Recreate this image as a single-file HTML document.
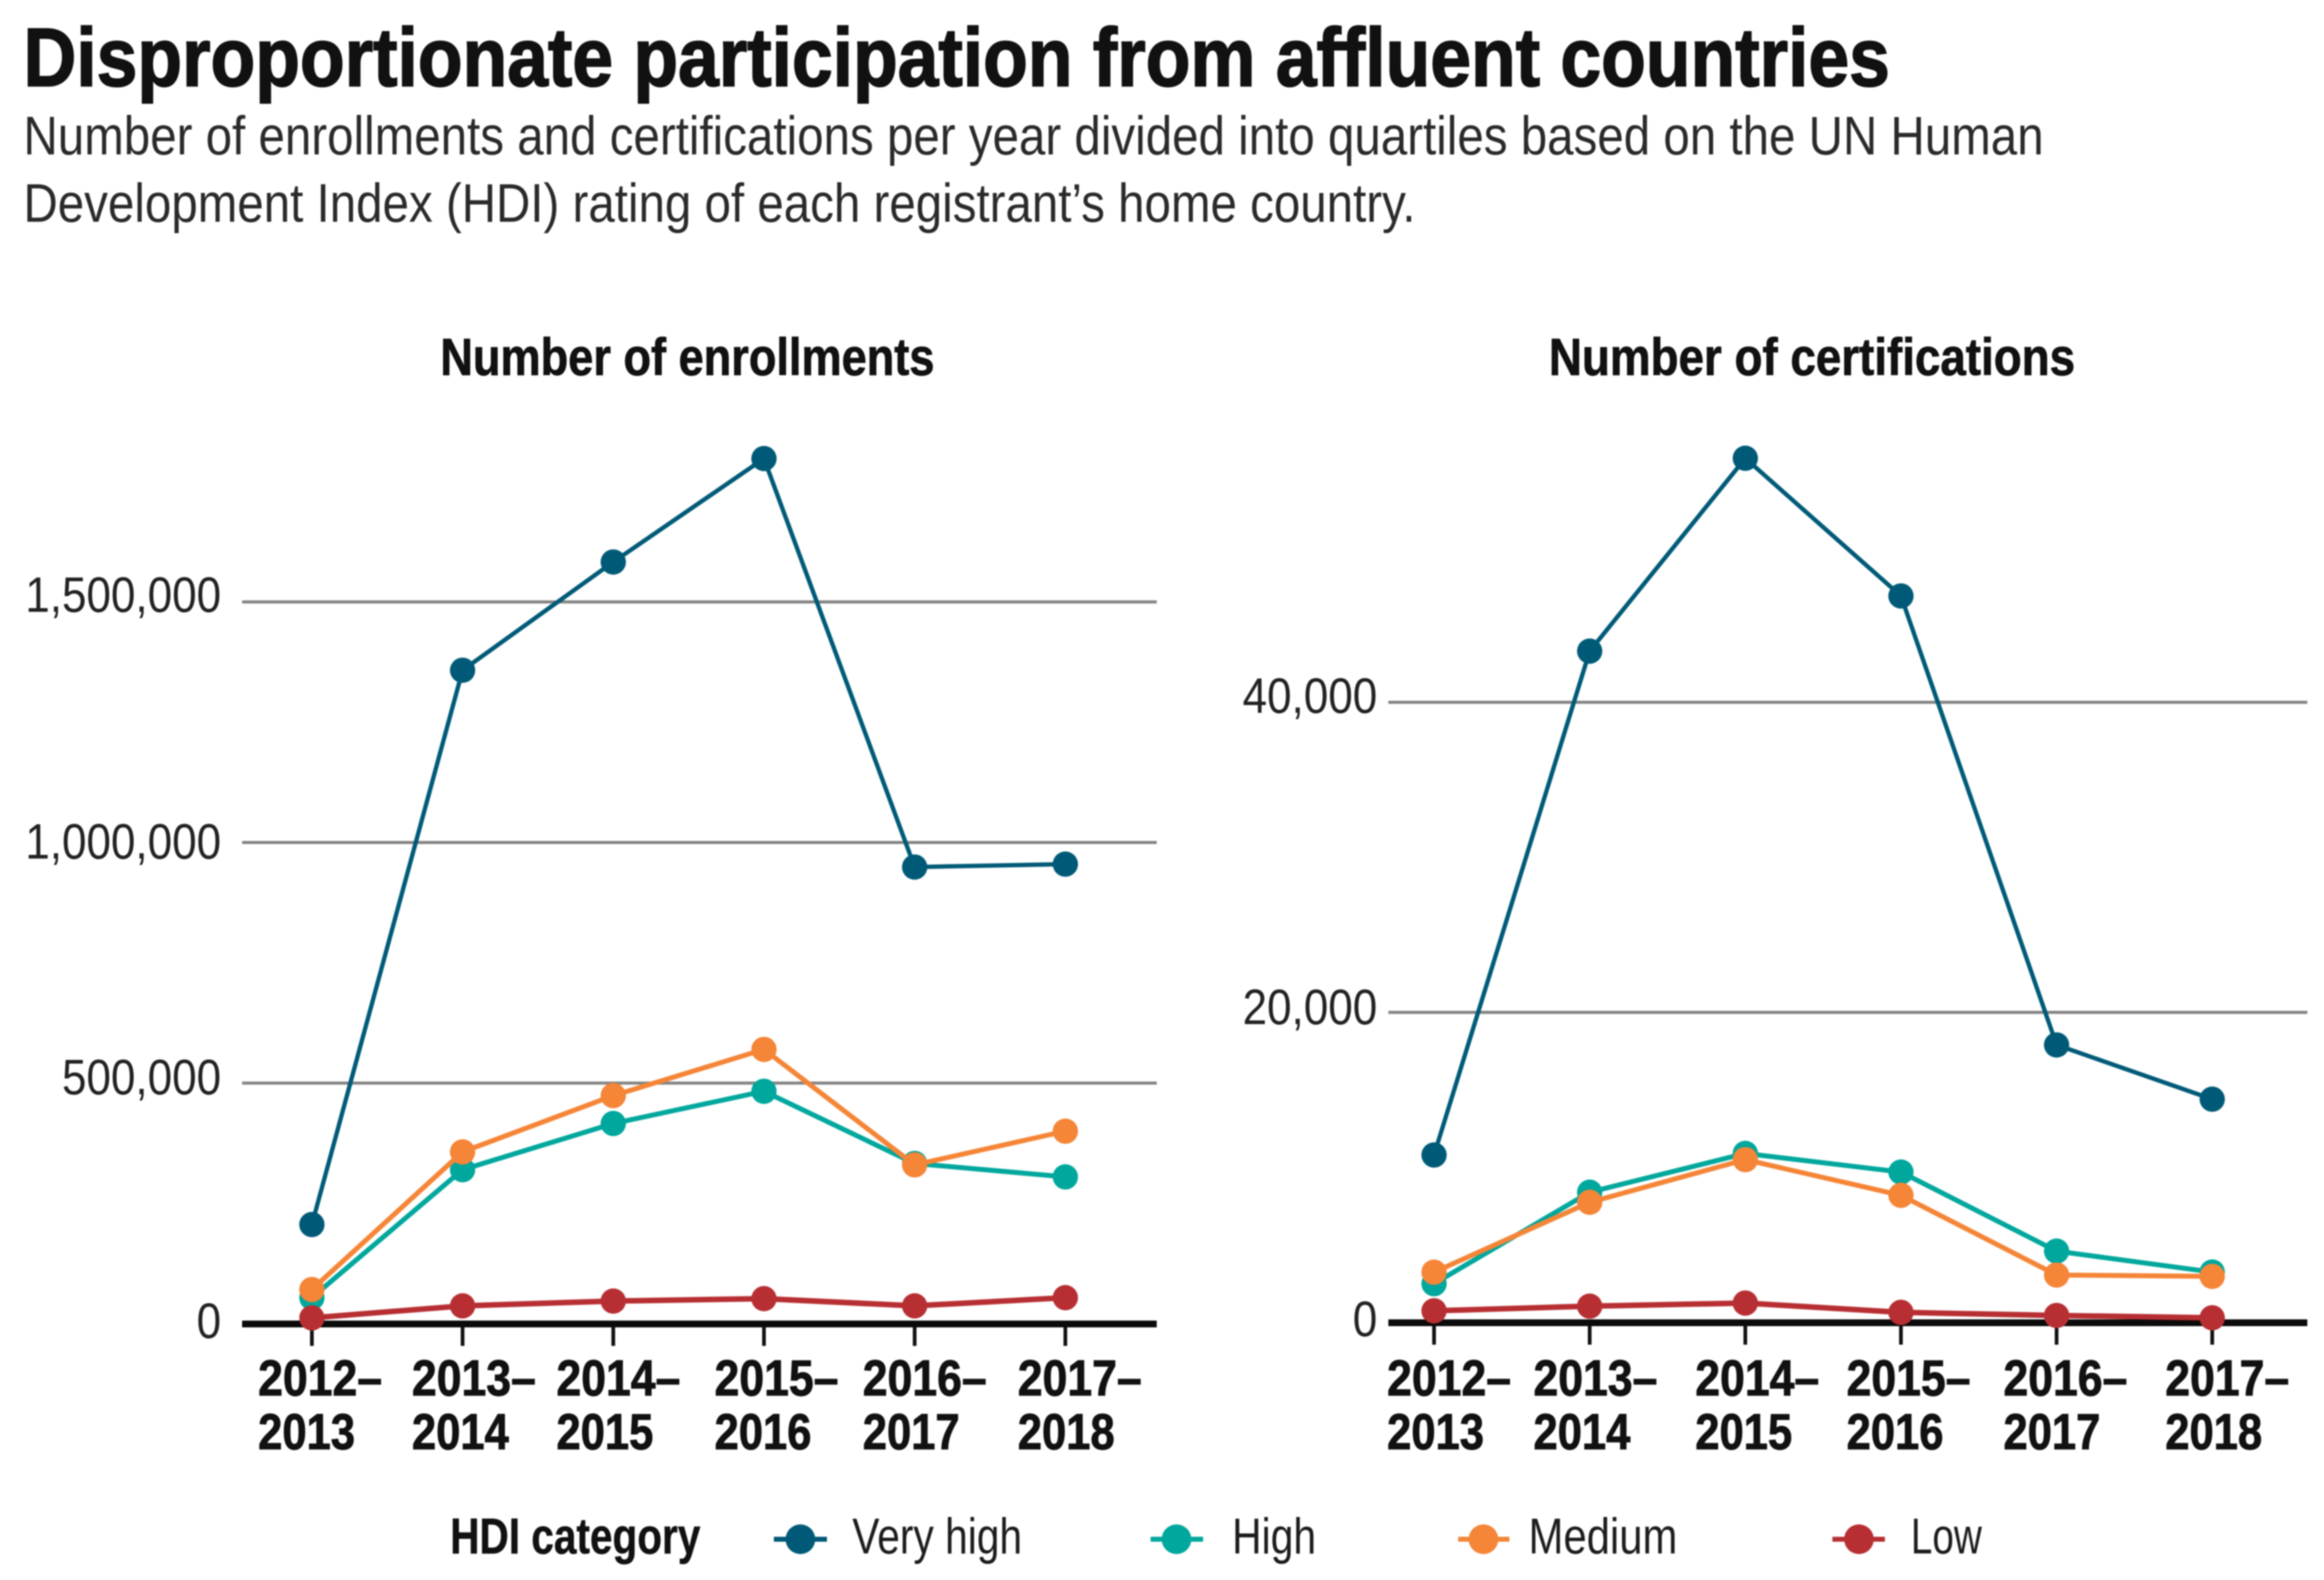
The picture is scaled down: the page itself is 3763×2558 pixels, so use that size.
<!DOCTYPE html>
<html lang="en">
<head>
<meta charset="utf-8">
<title>Disproportionate participation from affluent countries</title>
<style>
html,body{margin:0;padding:0;background:#fff;}
svg{display:block;}
text{font-family:"Liberation Sans",Arial,sans-serif;}
#root{filter:blur(1.1px);}
</style>
</head>
<body>
<svg id="figure" xmlns="http://www.w3.org/2000/svg" width="3763" height="2558" viewBox="0 0 3763 2558">
<rect width="3763" height="2558" fill="#fff"/>
<g id="root">
<text x="38" y="139" font-size="134" font-weight="700" fill="#111" stroke="#111" stroke-width="2.5" textLength="3022" lengthAdjust="spacingAndGlyphs">Disproportionate participation from affluent countries</text>
<text x="38" y="250" font-size="88" fill="#2a2a2a" textLength="3271" lengthAdjust="spacingAndGlyphs">Number of enrollments and certifications per year divided into quartiles based on the UN Human</text>
<text x="38" y="359" font-size="88" fill="#2a2a2a" textLength="2254" lengthAdjust="spacingAndGlyphs">Development Index (HDI) rating of each registrant’s home country.</text>
<text x="713" y="607" font-size="84" font-weight="700" fill="#111" stroke="#111" stroke-width="1.2" textLength="800" lengthAdjust="spacingAndGlyphs">Number of enrollments</text>
<text x="2508" y="607" font-size="84" font-weight="700" fill="#111" stroke="#111" stroke-width="1.2" textLength="852" lengthAdjust="spacingAndGlyphs">Number of certifications</text>
<g id="panels"></g>
<g id="legend">
<text x="729" y="2515" font-size="82" font-weight="700" fill="#111" stroke="#111" stroke-width="0.8" textLength="405" lengthAdjust="spacingAndGlyphs">HDI category</text>
<g>
<line x1="1253" x2="1339" y1="2492" y2="2492" stroke="#005a77" stroke-width="8"/>
<circle cx="1296" cy="2492" r="24" fill="#005a77"/>
<text x="1380" y="2515" font-size="82" fill="#1c1c1c" textLength="275" lengthAdjust="spacingAndGlyphs">Very high</text>
</g>
<g>
<line x1="1863" x2="1948" y1="2492" y2="2492" stroke="#00a79d" stroke-width="8"/>
<circle cx="1905" cy="2492" r="24" fill="#00a79d"/>
<text x="1995" y="2515" font-size="82" fill="#1c1c1c" textLength="136" lengthAdjust="spacingAndGlyphs">High</text>
</g>
<g>
<line x1="2361" x2="2444" y1="2492" y2="2492" stroke="#f58537" stroke-width="8"/>
<circle cx="2402" cy="2492" r="24" fill="#f58537"/>
<text x="2475" y="2515" font-size="82" fill="#1c1c1c" textLength="241" lengthAdjust="spacingAndGlyphs">Medium</text>
</g>
<g>
<line x1="2967" x2="3052" y1="2492" y2="2492" stroke="#b72f33" stroke-width="8"/>
<circle cx="3010" cy="2492" r="24" fill="#b72f33"/>
<text x="3094" y="2515" font-size="82" fill="#1c1c1c" textLength="115" lengthAdjust="spacingAndGlyphs">Low</text>
</g>
</g>
</g>
</svg>
<script>
// ---- chart data ----
const categoriesStart = ['2012–','2013–','2014–','2015–','2016–','2017–'];
const categoriesEnd = ['2013','2014','2015','2016','2017','2018'];

const enrollmentTicks = [0,500000,1000000,1500000];
const enrollmentVeryHigh = [206000,1358000,1583000,1798000,949000,955000];
const enrollmentHigh = [54000,320000,416000,483000,333000,305000];
const enrollmentMedium = [71000,357000,474000,570000,330000,400000];
const enrollmentLow = [12000,37000,47000,52000,37000,54000];

const certificationTicks = [0,20000,40000];
const certificationVeryHigh = [10800,43300,55740,46860,17900,14400];
const certificationHigh = [2500,8400,10900,9700,4600,3250];
const certificationMedium = [3240,7750,10500,8200,3060,2970];
const certificationLow = [750,1050,1250,650,450,300];

// ---- drawing ----
const NS = 'http://www.w3.org/2000/svg';
const host = document.getElementById('panels');
function make(tag, parent, attrs){
  const el = document.createElementNS(NS, tag);
  for (const k in attrs) el.setAttribute(k, attrs[k]);
  parent.appendChild(el);
  return el;
}
function fmt(v){ return v.toLocaleString('en-US'); }

function drawPanel(cfg){
  const xScale = i => cfg.x0 + i * cfg.xStep;
  const yScale = v => cfg.yZero - v * cfg.pxPerUnit;
  const g = make('g', host, {});
  
  

  cfg.ticks.forEach((t, ti) => {
    if (t !== 0) {
      const grid = make('line', g, {x1:cfg.left, x2:cfg.right, y1:yScale(t), y2:yScale(t), stroke:'#858585', 'stroke-width':5});
      
      
    }
    const lab = make('text', g, {'text-anchor':'end', 'font-size':81, fill:'#222',
      transform:'translate(' + cfg.labelRight + ',' + (yScale(t) + cfg.tickDy[ti]) + ') scale(0.88,1)'});
    lab.textContent = fmt(t);
    
    
  });

  categoriesStart.forEach((c, i) => {
    const tick = make('line', g, {x1:xScale(i), x2:xScale(i), y1:cfg.yZero, y2:cfg.yZero + 36, stroke:'#111', 'stroke-width':6});
    
    
    const lx = xScale(i) - cfg.labelShift + cfg.labelNudge[i];
    const l1 = make('text', g, {'font-size':82, 'font-weight':700, fill:'#111', stroke:'#111', 'stroke-width':1.4,
      transform:'translate(' + lx + ',2259) scale(0.88,1)'});
    l1.textContent = c;
    
    
    const l2 = make('text', g, {'font-size':82, 'font-weight':700, fill:'#111', stroke:'#111', 'stroke-width':1.4,
      transform:'translate(' + lx + ',2346) scale(0.86,1)'});
    l2.textContent = categoriesEnd[i];
    
    
  });

  const base = make('line', g, {x1:cfg.left, x2:cfg.right, y1:cfg.yZero + 0.5, y2:cfg.yZero + 0.5, stroke:'#0b0b0b', 'stroke-width':11});
  
  

  cfg.series.forEach(s => {
    const sg = make('g', g, {});
    
    
    const pts = s.values.map((v, i) => xScale(i) + ',' + yScale(v)).join(' ');
    const line = make('polyline', sg, {points:pts, fill:'none', stroke:s.color, 'stroke-width':s.width, 'stroke-linejoin':'round'});
    
    
    s.values.forEach((v, i) => {
      const dot = make('circle', sg, {cx:xScale(i), cy:yScale(v), r:20.5, fill:s.color});
      
      
    });
  });
}

drawPanel({
  name:'enrollments', x0:505, xStep:244, yZero:2143, pxPerUnit:389.5/500000,
  left:392, right:1873, labelRight:358, labelShift:82, ticks:enrollmentTicks,
  tickDy:[23,18,26,16], labelNudge:[-5,0,-10,2,-2,5],
  series:[
    {key:'very-high', color:'#005a77', width:7, values:enrollmentVeryHigh},
    {key:'high', color:'#00a79d', width:8, values:enrollmentHigh},
    {key:'medium', color:'#f58537', width:8, values:enrollmentMedium},
    {key:'low', color:'#b72f33', width:9, values:enrollmentLow}
  ]
});
drawPanel({
  name:'certifications', x0:2322, xStep:252, yZero:2141, pxPerUnit:502/20000,
  left:2248, right:3736, labelRight:2230, labelShift:81, ticks:certificationTicks,
  tickDy:[22,19,17], labelNudge:[5,-10,0,-7,-5,5],
  series:[
    {key:'very-high', color:'#005a77', width:7, values:certificationVeryHigh},
    {key:'high', color:'#00a79d', width:8, values:certificationHigh},
    {key:'medium', color:'#f58537', width:8, values:certificationMedium},
    {key:'low', color:'#b72f33', width:9, values:certificationLow}
  ]
});
</script>
</body>
</html>
